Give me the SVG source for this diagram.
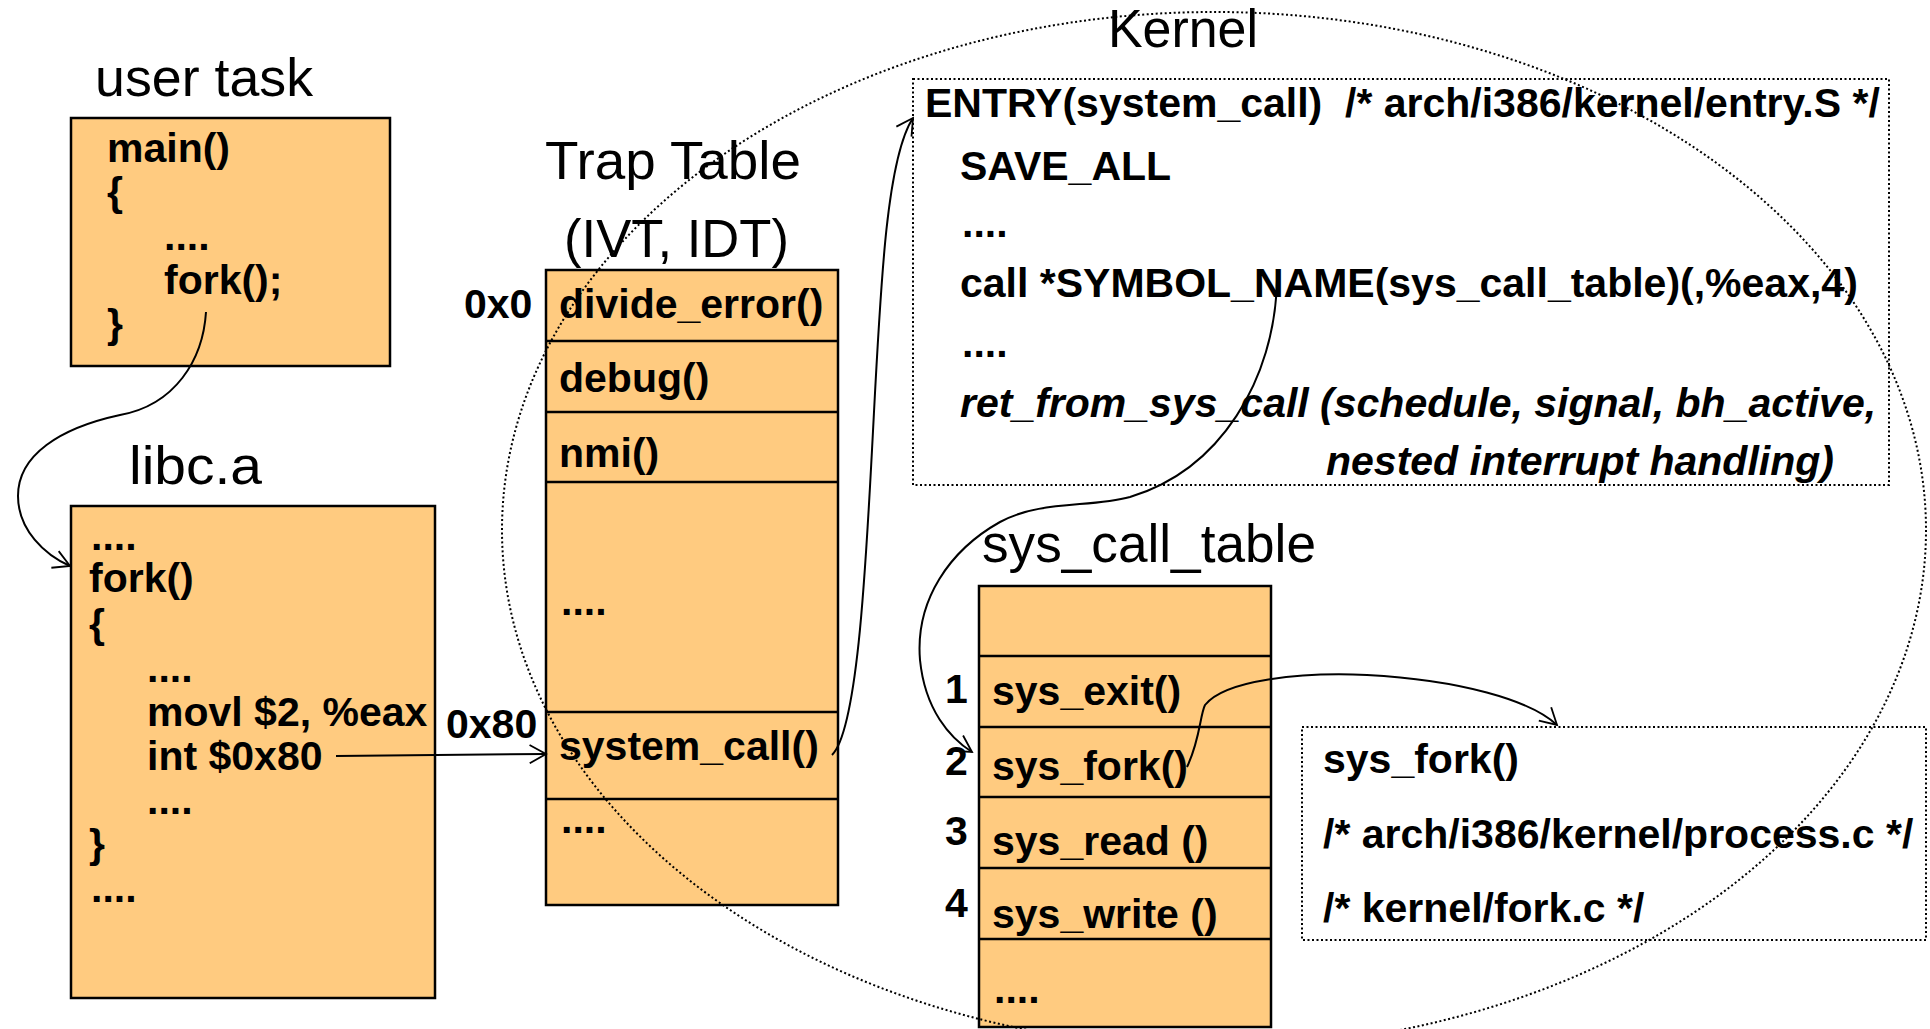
<svg xmlns="http://www.w3.org/2000/svg" width="1930" height="1029" viewBox="0 0 1930 1029">
<defs>
<style>
.box{fill:#FFCB80;stroke:#000;stroke-width:2.5}
.sep{stroke:#000;stroke-width:2.5}
.dot{fill:none;stroke:#000;stroke-width:2;stroke-dasharray:2 2.5}
.title{font-family:"Liberation Sans",Arial,sans-serif;font-size:53px;fill:#000}
.b{font-family:"Liberation Sans",Arial,sans-serif;font-size:41px;font-weight:bold;fill:#000}
.bi{font-family:"Liberation Sans",Arial,sans-serif;font-size:41px;font-weight:bold;font-style:italic;fill:#000}
.conn{fill:none;stroke:#000;stroke-width:2;marker-end:url(#arr)}
</style>
<marker id="arr" viewBox="0 0 22 22" markerWidth="20" markerHeight="20" refX="20" refY="11" orient="auto" markerUnits="userSpaceOnUse">
<path d="M2,1 L20,11 L2,21" fill="none" stroke="#000" stroke-width="2"/>
</marker>
</defs>
<rect width="1930" height="1029" fill="#fff"/>

<g id="user-task">
<text class="title" x="95" y="96" font-size="54" textLength="218" lengthAdjust="spacingAndGlyphs">user task</text>
<rect class="box" x="71" y="118" width="319" height="248"/>
<text class="b" x="107" y="162">main()</text>
<text class="b" x="107" y="206">{</text>
<text class="b" x="164" y="250">....</text>
<text class="b" x="164" y="294">fork();</text>
<text class="b" x="107" y="338">}</text>
</g>

<g id="libc">
<text class="title" x="129" y="484" font-size="57" textLength="133" lengthAdjust="spacingAndGlyphs">libc.a</text>
<rect class="box" x="71" y="506" width="364" height="492"/>
<text class="b" x="91" y="550">....</text>
<text class="b" x="89" y="592">fork()</text>
<text class="b" x="89" y="638">{</text>
<text class="b" x="147" y="682">....</text>
<text class="b" x="147" y="726">movl $2, %eax</text>
<text class="b" x="147" y="770">int $0x80</text>
<text class="b" x="147" y="814">....</text>
<text class="b" x="89" y="858">}</text>
<text class="b" x="91" y="902">....</text>
</g>

<g id="trap-table">
<text class="title" x="545" y="179" font-size="54" textLength="256" lengthAdjust="spacingAndGlyphs">Trap Table</text>
<text class="title" x="564" y="257" font-size="52" textLength="225" lengthAdjust="spacingAndGlyphs">(IVT, IDT)</text>
<rect class="box" x="546" y="270" width="292" height="635"/>
<line class="sep" x1="546" y1="341" x2="838" y2="341"/>
<line class="sep" x1="546" y1="412" x2="838" y2="412"/>
<line class="sep" x1="546" y1="482" x2="838" y2="482"/>
<line class="sep" x1="546" y1="712" x2="838" y2="712"/>
<line class="sep" x1="546" y1="799" x2="838" y2="799"/>
<text class="b" x="464" y="318">0x0</text>
<text class="b" x="446" y="738">0x80</text>
<text class="b" x="559" y="318">divide_error()</text>
<text class="b" x="559" y="392">debug()</text>
<text class="b" x="559" y="467">nmi()</text>
<text class="b" x="561" y="615">....</text>
<text class="b" x="559" y="760">system_call()</text>
<text class="b" x="561" y="833">....</text>
</g>

<g id="entry">
<rect class="dot" x="913" y="79" width="976" height="406" stroke-width="1.6"/>
<text class="b" x="925" y="117">ENTRY(system_call)<tspan x="1345">/* arch/i386/kernel/entry.S */</tspan></text>
<text class="b" x="960" y="180">SAVE_ALL</text>
<text class="b" x="962" y="237">....</text>
<text class="b" x="960" y="297">call *SYMBOL_NAME(sys_call_table)(,%eax,4)</text>
<text class="b" x="962" y="357">....</text>
<text class="bi" x="960" y="417">ret_from_sys_call (schedule, signal, bh_active,</text>
<text class="bi" x="1326" y="475">nested interrupt handling)</text>
</g>

<g id="sys-call-table">
<text class="title" x="982" y="562" textLength="334" lengthAdjust="spacingAndGlyphs">sys_call_table</text>
<rect class="box" x="979" y="586" width="292" height="441"/>
<line class="sep" x1="979" y1="656" x2="1271" y2="656"/>
<line class="sep" x1="979" y1="727" x2="1271" y2="727"/>
<line class="sep" x1="979" y1="797" x2="1271" y2="797"/>
<line class="sep" x1="979" y1="868" x2="1271" y2="868"/>
<line class="sep" x1="979" y1="939" x2="1271" y2="939"/>
<text class="b" x="945" y="703">1</text>
<text class="b" x="945" y="775">2</text>
<text class="b" x="945" y="845">3</text>
<text class="b" x="945" y="917">4</text>
<text class="b" x="992" y="705">sys_exit()</text>
<text class="b" x="992" y="780">sys_fork()</text>
<text class="b" x="992" y="855">sys_read ()</text>
<text class="b" x="992" y="928">sys_write ()</text>
<text class="b" x="994" y="1003">....</text>
</g>

<g id="sys-fork">
<rect class="dot" x="1302" y="727" width="624" height="213" stroke-width="1.6"/>
<text class="b" x="1323" y="773">sys_fork()</text>
<text class="b" x="1323" y="848">/* arch/i386/kernel/process.c */</text>
<text class="b" x="1323" y="922">/* kernel/fork.c */</text>
</g>

<g id="kernel">
<ellipse class="dot" cx="1214" cy="530" rx="712" ry="518"/>
<text class="title" x="1108" y="47" font-size="51" textLength="150" lengthAdjust="spacingAndGlyphs">Kernel</text>
</g>

<g id="connectors">
<path class="conn" d="M206,312 C203,360 175,405 120,415 C60,428 18,455 18,496 C18,530 45,555 70,566"/>
<path class="conn" d="M336,756 L546,754"/>
<path class="conn" d="M832,755 C858,730 866,560 872,450 C880,300 885,160 913,118"/>
<path class="conn" d="M1277,280 C1275,380 1220,470 1130,497 C1090,508 1040,500 1000,522 C950,550 915,600 920,660 C925,710 950,738 972,752"/>
<path class="conn" d="M1187,767 C1200,740 1200,715 1205,705 C1225,680 1300,672 1367,675 C1460,680 1530,700 1557,725"/>
</g>
</svg>
